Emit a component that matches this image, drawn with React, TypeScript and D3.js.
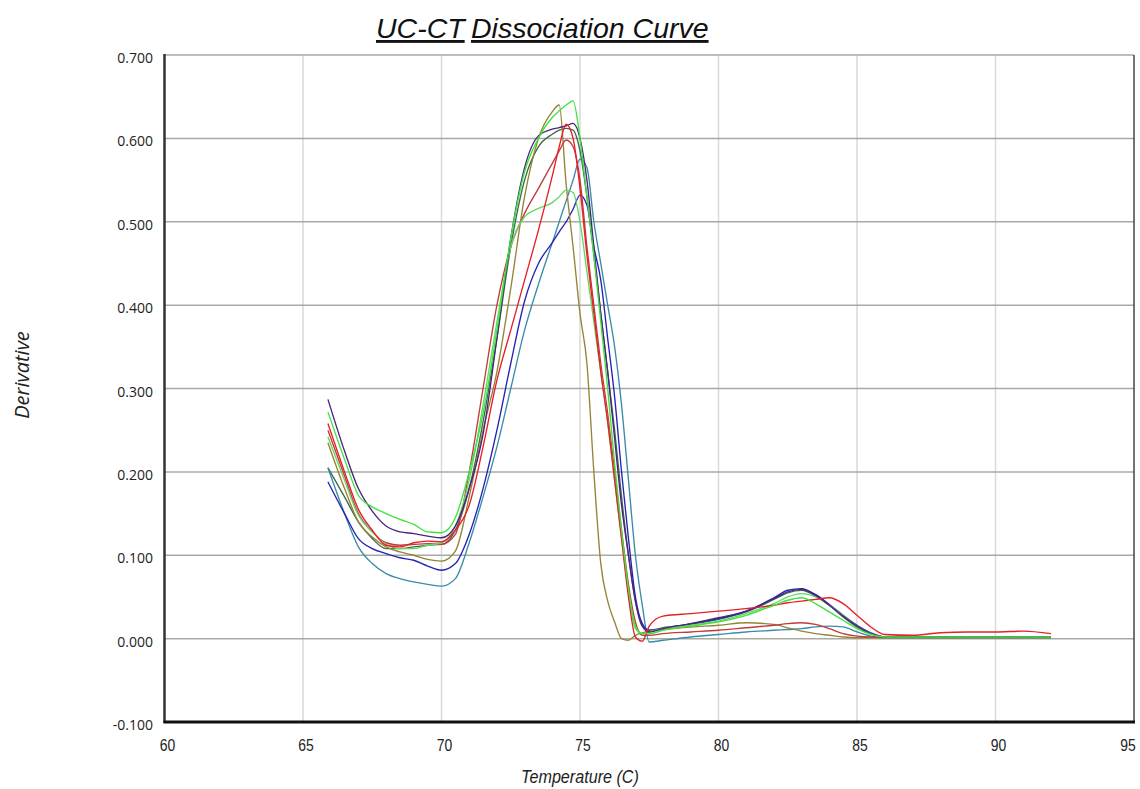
import React from 'react';
import * as d3 from 'd3';

// melt temperatures (C) shared by every well
const temps = [
  65.9, 66.5, 67, 67.5, 68, 68.5, 69, 69.5, 70, 70.5,
  71, 71.5, 72, 72.5, 73, 73.5, 74, 74.25, 74.5, 74.75,
  75, 75.25, 75.5, 75.75, 76, 76.25, 76.5, 76.75, 77, 77.25,
  77.5, 78, 79, 80, 81, 82, 82.5, 83, 83.5, 84,
  84.5, 85, 85.5, 86, 87, 88, 89, 90, 91, 92
];

const purple = [
  0.287, 0.225, 0.18, 0.153, 0.135, 0.128, 0.126, 0.123, 0.121, 0.135,
  0.18, 0.245, 0.36, 0.48, 0.565, 0.603, 0.611, 0.613, 0.615, 0.618,
  0.6, 0.55, 0.47, 0.39, 0.32, 0.24, 0.16, 0.1, 0.045, 0.015,
  0.008, 0.012, 0.018, 0.025, 0.033, 0.048, 0.056, 0.059, 0.052, 0.04,
  0.027, 0.015, 0.006, 0.002, 0.002, 0.002, 0.002, 0.002, 0.002, 0.002
];

const brightGreen = [
  0.272, 0.215, 0.172, 0.158, 0.15, 0.143, 0.137, 0.128, 0.127, 0.145,
  0.2, 0.27, 0.37, 0.48, 0.56, 0.6, 0.625, 0.633, 0.64, 0.645,
  0.6, 0.53, 0.46, 0.38, 0.3, 0.21, 0.13, 0.06, 0.015, 0.006,
  0.006, 0.01, 0.015, 0.02, 0.028, 0.04, 0.046, 0.049, 0.042, 0.032,
  0.022, 0.012, 0.005, 0.002, 0.002, 0.002, 0.002, 0.002, 0.002, 0.002
];

const red = [
  0.258, 0.2, 0.155, 0.13, 0.112, 0.11, 0.115, 0.117, 0.116, 0.13,
  0.16, 0.23, 0.31, 0.37, 0.43, 0.49, 0.555, 0.59, 0.617, 0.6,
  0.54, 0.46, 0.39, 0.32, 0.26, 0.19, 0.12, 0.05, 0.002, -0.003,
  0.015, 0.027, 0.03, 0.033, 0.036, 0.04, 0.043, 0.045, 0.047, 0.049,
  0.042, 0.028, 0.014, 0.005, 0.004, 0.007, 0.008, 0.008, 0.009, 0.006
];

const darkRed = [
  0.25, 0.195, 0.15, 0.128, 0.115, 0.112, 0.113, 0.114, 0.113, 0.125,
  0.2, 0.3, 0.4, 0.47, 0.51, 0.54, 0.57, 0.585, 0.598, 0.59,
  0.55, 0.47, 0.4, 0.33, 0.27, 0.2, 0.13, 0.065, 0.02, 0.004,
  0.004, 0.006, 0.008, 0.01, 0.013, 0.016, 0.018, 0.019, 0.017, 0.012,
  0.006, 0.003, 0.002, 0.002, 0.002, 0.002, 0.002, 0.002, 0.002, 0.002
];

const olive = [
  0.235, 0.18, 0.14, 0.122, 0.11, 0.104, 0.1, 0.095, 0.093, 0.105,
  0.17, 0.25, 0.32, 0.42, 0.53, 0.6, 0.632, 0.64, 0.545, 0.47,
  0.39, 0.33, 0.2, 0.09, 0.045, 0.02, 0.0, -0.002, 0.004, 0.007,
  0.009, 0.011, 0.014, 0.016, 0.019, 0.017, 0.013, 0.009, 0.006, 0.004,
  0.002, 0.001, 0.001, 0.001, 0.001, 0.001, 0.001, 0.001, 0.001, 0.001
];

const lightGreen = [
  0.242, 0.19, 0.148, 0.128, 0.113, 0.108, 0.108, 0.112, 0.115, 0.135,
  0.19, 0.28, 0.38, 0.47, 0.506, 0.516, 0.523, 0.53, 0.538, 0.535,
  0.5, 0.44, 0.38, 0.32, 0.26, 0.19, 0.12, 0.055, 0.012, 0.006,
  0.008, 0.012, 0.016, 0.021, 0.03, 0.042, 0.05, 0.054, 0.05, 0.04,
  0.028, 0.015, 0.006, 0.002, 0.002, 0.002, 0.002, 0.002, 0.002, 0.002
];

const blue = [
  0.188, 0.15, 0.12, 0.108, 0.102, 0.097, 0.094, 0.087, 0.082, 0.09,
  0.125, 0.18, 0.25, 0.33, 0.405, 0.45, 0.475, 0.488, 0.5, 0.515,
  0.532, 0.52, 0.47, 0.43, 0.36, 0.29, 0.2, 0.12, 0.05, 0.018,
  0.01, 0.012, 0.018, 0.024, 0.033, 0.049, 0.058, 0.06, 0.053, 0.041,
  0.028, 0.016, 0.007, 0.002, 0.002, 0.002, 0.002, 0.002, 0.002, 0.002
];

const teal = [
  0.205, 0.15, 0.11, 0.09, 0.078, 0.072, 0.068, 0.065, 0.063, 0.072,
  0.115, 0.17, 0.23, 0.3, 0.37, 0.425, 0.475, 0.5, 0.525, 0.55,
  0.575, 0.565, 0.5, 0.45, 0.4, 0.35, 0.28, 0.19, 0.1, 0.04,
  -0.004, -0.002, 0.002, 0.005, 0.008, 0.01, 0.011, 0.012, 0.014, 0.015,
  0.014, 0.008, 0.003, 0.001, 0.001, 0.001, 0.001, 0.001, 0.001, 0.001
];

const darkGreen = [
  0.205, 0.17, 0.14, 0.12, 0.108, 0.108, 0.11, 0.112, 0.113, 0.13,
  0.18, 0.26, 0.36, 0.47, 0.55, 0.59, 0.605, 0.61, 0.612, 0.61,
  0.585, 0.53, 0.46, 0.39, 0.32, 0.25, 0.17, 0.1, 0.045, 0.015,
  0.01, 0.013, 0.017, 0.023, 0.032, 0.047, 0.055, 0.058, 0.051, 0.04,
  0.026, 0.014, 0.006, 0.002, 0.002, 0.002, 0.002, 0.002, 0.002, 0.002
];

const xTicks = [60, 65, 70, 75, 80, 85, 90, 95];
const yTicks = [-0.1, 0, 0.1, 0.2, 0.3, 0.4, 0.5, 0.6, 0.7];

// draw order, last on top
const wells = [
  { name: 'darkGreen', color: '#3d6b4a', values: darkGreen },
  { name: 'teal', color: '#3a8ca6', values: teal },
  { name: 'blue', color: '#2424b4', values: blue },
  { name: 'olive', color: '#958436', values: olive },
  { name: 'darkRed', color: '#c23b3b', values: darkRed },
  { name: 'lightGreen', color: '#62d862', values: lightGreen },
  { name: 'purple', color: '#4e2380', values: purple },
  { name: 'red', color: '#e4202a', values: red },
  { name: 'brightGreen', color: '#3fe23f', values: brightGreen }
];

const W = 1140;
const H = 789;
const left = 164.5;
const right = 1134;
const top = 55;
const bottom = 722;

const sans = "'Liberation Sans', Arial, sans-serif";

export default function App() {
  const x = d3.scaleLinear().domain([60, 95]).range([left, right]);
  const y = d3.scaleLinear().domain([-0.1, 0.7]).range([bottom, top]);
  const fmt = (v: number) => d3.format('.3f')(v).replace('\u2212', '-');

  const line = d3
    .line<number>()
    .x((_, i) => x(temps[i]))
    .y(v => y(v))
    .curve(d3.curveMonotoneX);

  return (
    <svg
      width={W}
      height={H}
      style={{ position: 'absolute', left: 0, top: 0, background: '#fff' }}
    >
      {/* title, two underlined pieces */}
      <text
        y={38}
        fontFamily={sans}
        fontStyle="italic"
        fontSize={28.5}
        fill="#111"
      >
        <tspan x={376} textDecoration="underline">UC-CT</tspan>
        <tspan x={471} textDecoration="underline">Dissociation Curve</tspan>
      </text>

      {/* vertical grid */}
      {xTicks.slice(1, -1).map(t => (
        <line key={'vx' + t} x1={x(t)} x2={x(t)} y1={top} y2={bottom} stroke="#d9d9d9" strokeWidth={1.5} />
      ))}
      {/* horizontal grid */}
      {yTicks.slice(1).map(t => (
        <line key={'hy' + t} x1={left} x2={right} y1={y(t)} y2={y(t)} stroke="#a9a9a3" strokeWidth={1.5} />
      ))}

      {/* curves */}
      {wells.map(w => (
        <path key={w.name} d={line(w.values) || ''} fill="none" stroke={w.color} strokeWidth={1.35} strokeLinejoin="round" />
      ))}

      {/* frame */}
      <line x1={right} x2={right} y1={top} y2={bottom} stroke="#444" strokeWidth={1.5} />
      <line x1={left} x2={left} y1={top - 1} y2={bottom + 1} stroke="#333" strokeWidth={2.5} />
      <line x1={left - 1} x2={right + 1} y1={bottom} y2={bottom} stroke="#111" strokeWidth={3} />

      {/* y tick labels */}
      {yTicks.map(t => (
        <text
          key={'yl' + t}
          x={153}
          y={y(t) + 8}
          textAnchor="end"
          fontFamily="'Open Sans', sans-serif"
          fontSize={14}
          fill="#222"
        >
          {fmt(t)}
        </text>
      ))}

      {/* x tick labels, narrow face */}
      {xTicks.map(t => (
        <text
          key={'xl' + t}
          transform={`translate(${t === 95 ? x(t) - 6 : x(t) + 3},751) scale(0.82,1)`}
          textAnchor="middle"
          fontFamily={sans}
          fontSize={17}
          fill="#222"
        >
          {t}
        </text>
      ))}

      <text
        transform="translate(580,783) scale(0.85,1)"
        textAnchor="middle"
        fontFamily={sans}
        fontStyle="italic"
        fontSize={19}
        fill="#222"
      >
        Temperature (C)
      </text>
      <text
        transform="translate(29,375) rotate(-90)"
        textAnchor="middle"
        fontFamily="'Open Sans', sans-serif"
        fontStyle="italic"
        fontSize={20}
        fill="#222"
      >
        Derivative
      </text>
    </svg>
  );
}
